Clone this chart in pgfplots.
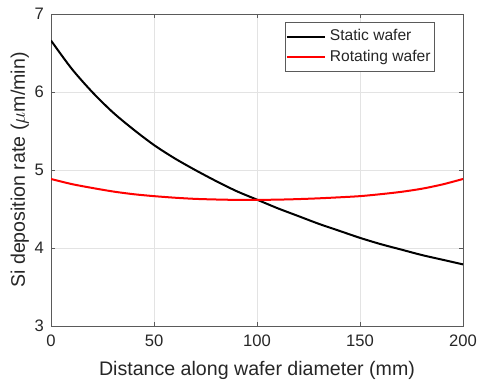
\documentclass[border=0pt]{standalone}
\usepackage{pgfplots}
\pgfplotsset{compat=1.18}
\usepackage{fontspec}
\setmainfont{Liberation Sans}
\definecolor{txt}{HTML}{262626}
\definecolor{axc}{HTML}{5a5a5a}
\definecolor{gridc}{HTML}{e3e3e3}
\begin{document}
\begin{tikzpicture}
\begin{axis}[
  name=ax,
  width=206pt, height=156pt, scale only axis,
  xmin=0, xmax=200, ymin=3, ymax=7,
  xtick={0,50,100,150,200}, ytick={3,4,5,6,7},
  grid=major,
  major grid style={gridc, line width=0.4pt},
  axis line style={axc, line width=0.5pt},
  tick style={axc, line width=0.5pt},
  tick align=inside, major tick length=2pt,
  xtick pos=both, ytick pos=both,
  /pgf/number format/assume math mode=true,
  ticklabel style={font=\fontsize{8.3pt}{10pt}\selectfont, text=txt},
  xticklabel style={yshift=-1pt},
  label style={font=\fontsize{9.8pt}{12pt}\selectfont, text=txt},
  xlabel={Distance along wafer diameter (mm)},
  ylabel={Si deposition rate ($\mu$m/min)},
  xlabel style={yshift=-0.5pt},
  ylabel style={yshift=-4pt},
  legend style={at={(1,1)}, anchor=north east, xshift=-14pt, yshift=-4pt,
    draw=axc, line width=0.5pt, font=\fontsize{7.8pt}{9.5pt}\selectfont, text=txt,
    inner xsep=0pt, inner ysep=1.5pt, row sep=-1pt},
  legend cell align=left,
  legend image post style={line width=1pt},
  legend image code/.code={\draw[#1] (0pt,0pt) -- (19pt,0pt);},
]
\addplot[black, line width=1pt, smooth] coordinates {
(0,6.66) (10,6.30) (20,6.00) (30,5.74) (40,5.52) (50,5.32) (60,5.15) (70,5.00)
(80,4.86) (90,4.73) (100,4.62) (110,4.51) (120,4.41) (130,4.31) (140,4.22)
(150,4.13) (160,4.05) (170,3.98) (180,3.91) (190,3.85) (200,3.79)};
\addlegendentry{Static wafer}
\addplot[red, line width=1pt, smooth] coordinates {
(0,4.885) (10,4.82) (20,4.77) (30,4.725) (40,4.69) (50,4.665) (60,4.645) (70,4.63)
(80,4.622) (90,4.617) (100,4.617) (110,4.62) (120,4.627) (130,4.637) (140,4.65)
(150,4.665) (160,4.69) (170,4.72) (180,4.76) (190,4.815) (200,4.885)};
\addlegendentry{Rotating wafer}
\end{axis}
\pgfresetboundingbox
\path ([xshift=-25.5pt,yshift=-27.5pt]ax.south west) rectangle ([xshift=8pt,yshift=7pt]ax.north east);
\end{tikzpicture}
\end{document}
